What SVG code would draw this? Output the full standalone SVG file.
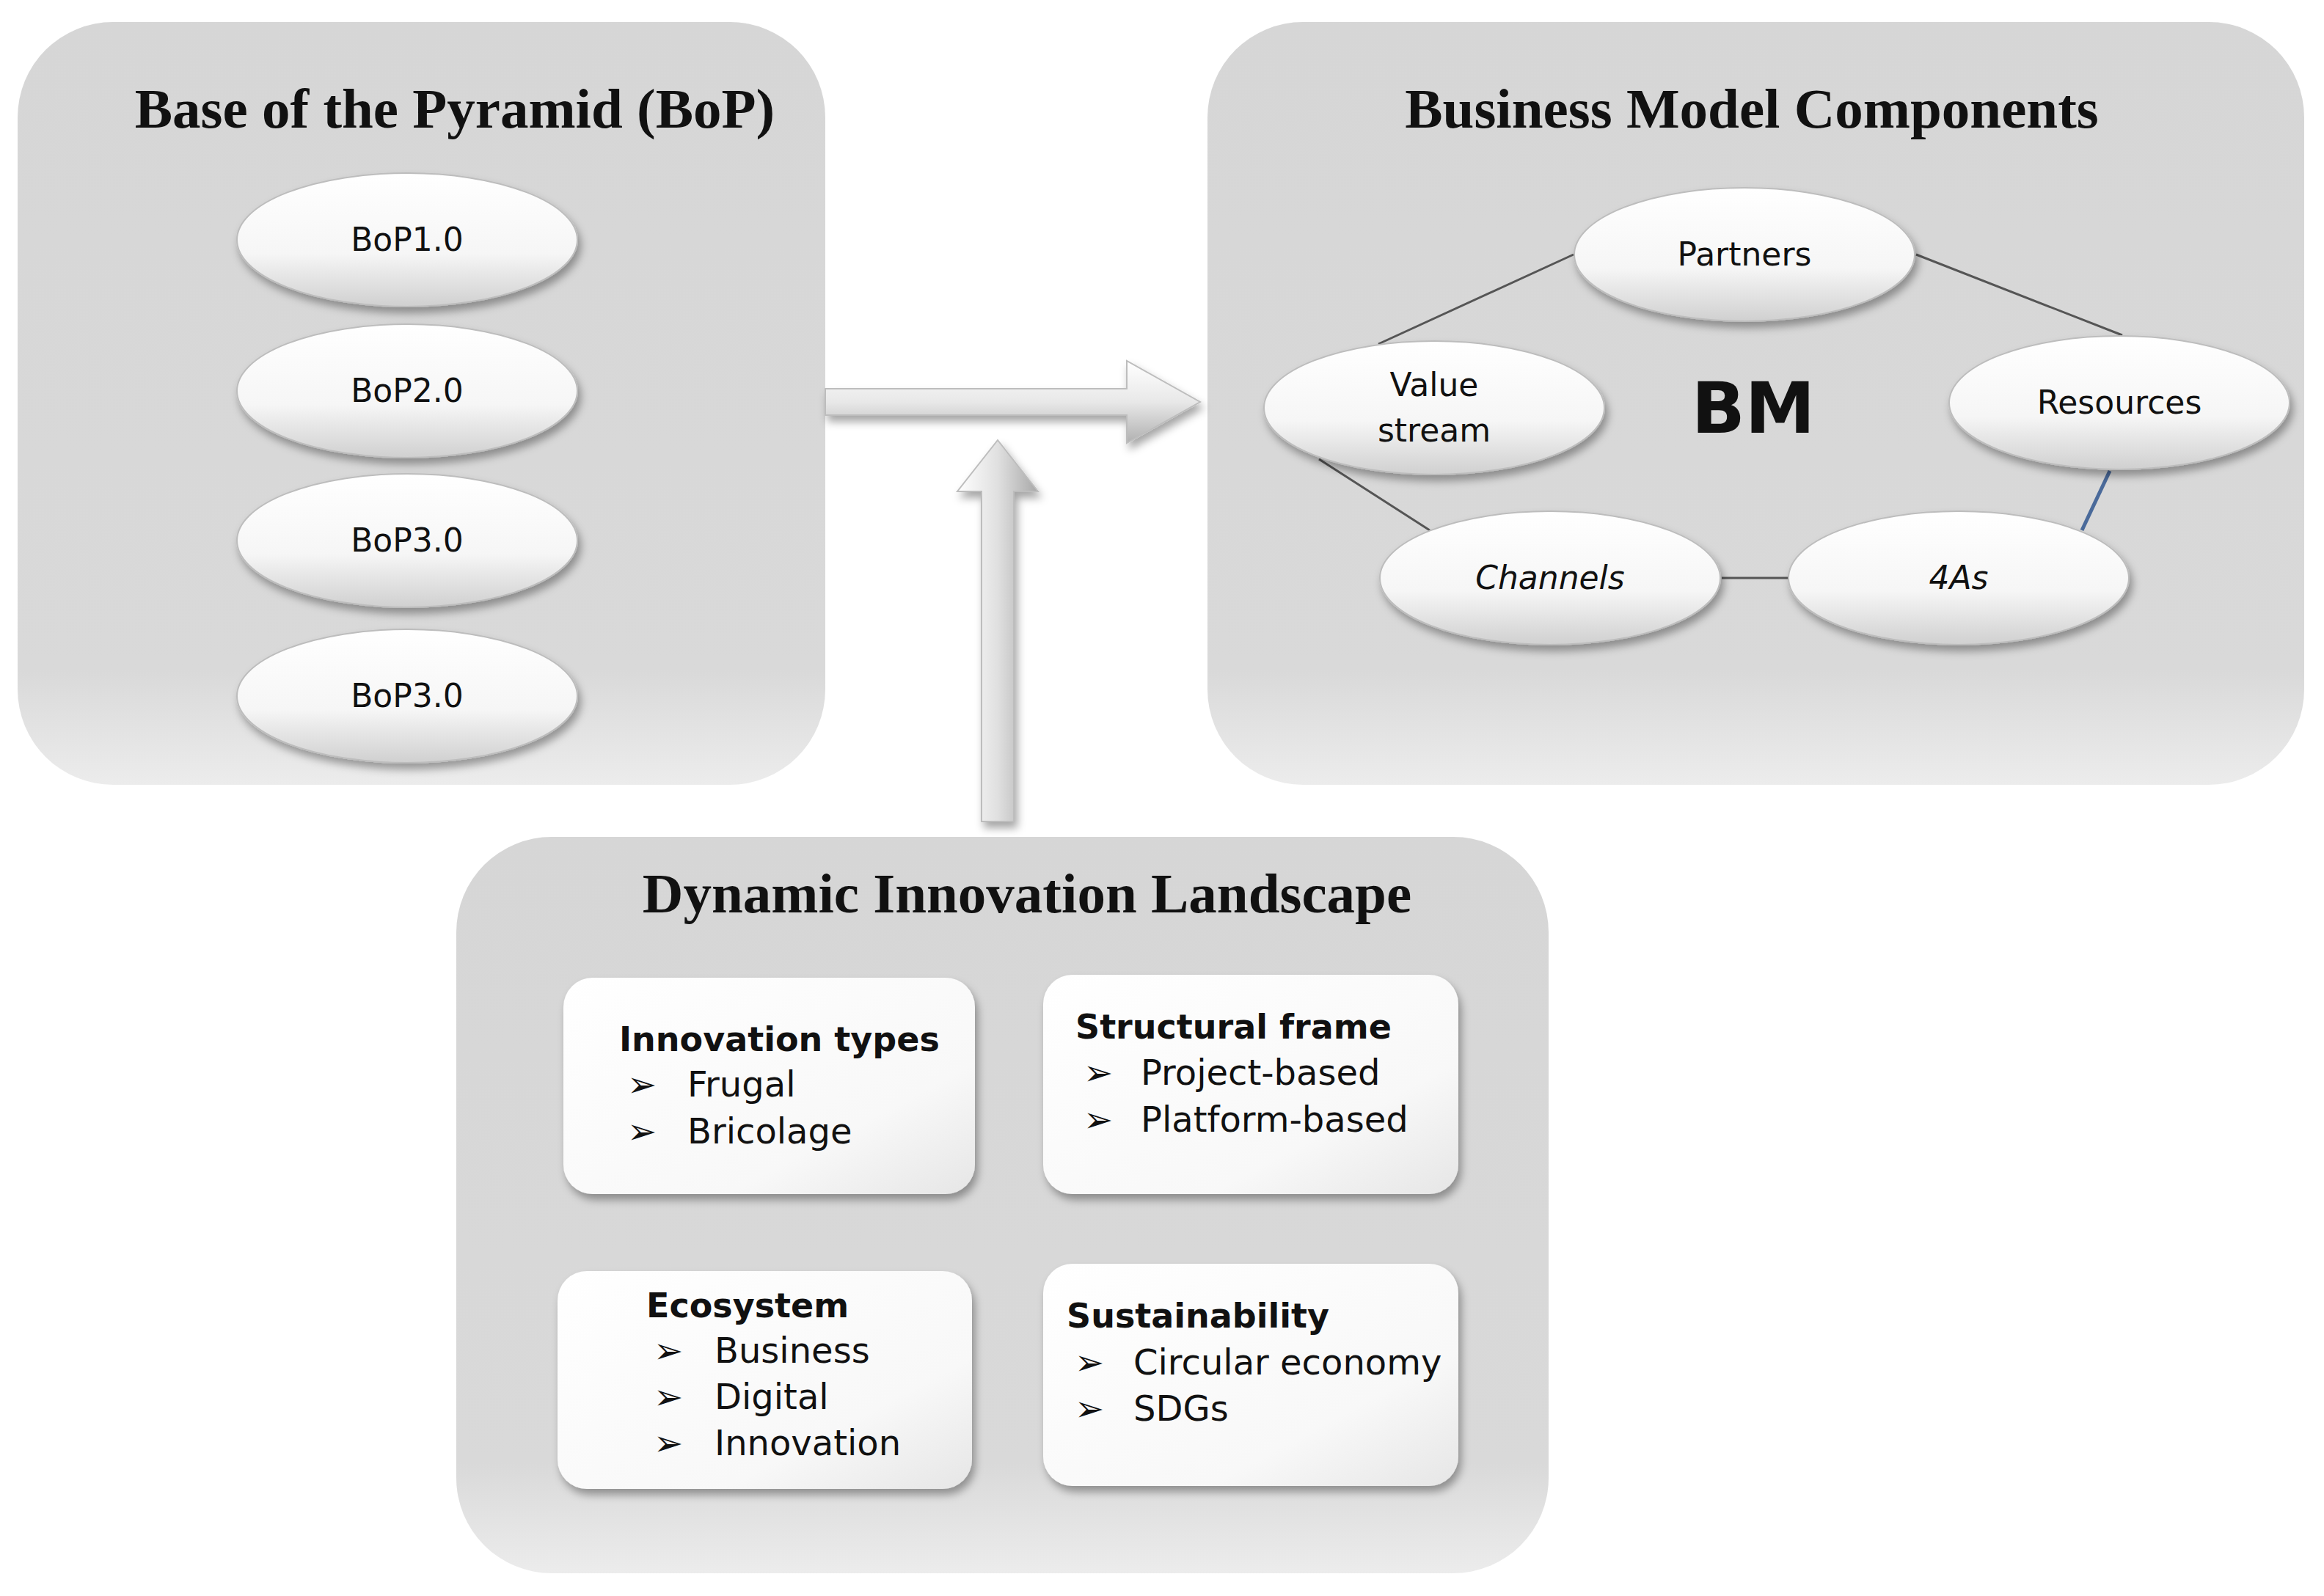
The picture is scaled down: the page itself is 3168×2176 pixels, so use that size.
<svg xmlns="http://www.w3.org/2000/svg" width="3168" height="2176" viewBox="0 0 3168 2176">
<defs>
<linearGradient id="pg" x1="0" y1="0" x2="0" y2="1"><stop offset="0" stop-color="#d6d6d6"/><stop offset="0.85" stop-color="#d9d9d9"/><stop offset="1" stop-color="#ececec"/></linearGradient>
<linearGradient id="eg" x1="0" y1="0" x2="0" y2="1"><stop offset="0" stop-color="#ffffff"/><stop offset="0.6" stop-color="#f6f6f6"/><stop offset="1" stop-color="#d0d0d0"/></linearGradient>
<linearGradient id="bg" x1="0" y1="0" x2="1" y2="1"><stop offset="0" stop-color="#ffffff"/><stop offset="0.7" stop-color="#f8f8f8"/><stop offset="1" stop-color="#e6e6e6"/></linearGradient>
<linearGradient id="ah" x1="0" y1="0" x2="0" y2="1"><stop offset="0" stop-color="#ffffff"/><stop offset="0.5" stop-color="#e8e8e8"/><stop offset="1" stop-color="#b0b0b0"/></linearGradient>
<linearGradient id="av" x1="0" y1="0" x2="1" y2="0"><stop offset="0" stop-color="#ffffff"/><stop offset="0.5" stop-color="#e0e0e0"/><stop offset="1" stop-color="#a8a8a8"/></linearGradient>
<filter id="sh" x="-10%" y="-10%" width="130%" height="130%"><feDropShadow dx="4" dy="8" stdDeviation="6" flood-color="#000" flood-opacity="0.35"/></filter>
</defs>
<style>
.panel{fill:url(#pg);}
.ell{fill:url(#eg);stroke:#bdbdbd;stroke-width:2;filter:url(#sh);}
.box{fill:url(#bg);filter:url(#sh);}
.title{font-family:"Liberation Serif",serif;font-weight:bold;font-size:77px;fill:#111;text-anchor:middle;}
.lbl{font-family:"DejaVu Sans",sans-serif;font-size:44px;fill:#111;text-anchor:middle;}
.ht{font-family:"DejaVu Sans",sans-serif;font-weight:bold;font-size:46px;fill:#111;}
.it{font-family:"DejaVu Sans",sans-serif;font-size:48px;fill:#111;}
.line{stroke:#555;stroke-width:3;fill:none;}
</style>
<rect x="0" y="0" width="3168" height="2176" fill="#fff"/>
<g id="bop">
<rect class="panel" x="24" y="30" width="1101" height="1040" rx="130"/>
<text class="title" x="620" y="174">Base of the Pyramid  (BoP)</text>
<g id="bop1"><ellipse class="ell" cx="555" cy="327" rx="232" ry="91"/><text class="lbl" x="555" y="342">BoP1.0</text></g>
<g id="bop2"><ellipse class="ell" cx="555" cy="533" rx="232" ry="91"/><text class="lbl" x="555" y="548">BoP2.0</text></g>
<g id="bop3"><ellipse class="ell" cx="555" cy="737" rx="232" ry="91"/><text class="lbl" x="555" y="752">BoP3.0</text></g>
<g id="bop4"><ellipse class="ell" cx="555" cy="949" rx="232" ry="91"/><text class="lbl" x="555" y="964">BoP3.0</text></g>
</g>
<g id="bm">
<rect class="panel" x="1646" y="30" width="1495" height="1040" rx="130"/>
<text class="title" x="2388" y="174">Business Model Components</text>
<g id="bm-lines">
<line class="line" x1="2145" y1="347" x2="1879" y2="469"/>
<line class="line" x1="2612" y1="347" x2="2893" y2="457"/>
<line class="line" x1="1798" y1="626" x2="1949" y2="723"/>
<line class="line" x1="2347" y1="788" x2="2438" y2="788"/>
<line x1="2876" y1="642" x2="2838" y2="723" stroke="#4a6a9a" stroke-width="5"/>
</g>
<text x="2390" y="590" font-family="DejaVu Sans,sans-serif" font-weight="bold" font-size="96" text-anchor="middle" fill="#111">BM</text>
<g id="partners"><ellipse class="ell" cx="2378" cy="347" rx="232" ry="91"/><text class="lbl" x="2378" y="362">Partners</text></g>
<g id="value"><ellipse class="ell" cx="1955" cy="556" rx="232" ry="91"/><text class="lbl" x="1955" y="540">Value</text><text class="lbl" x="1955" y="602">stream</text></g>
<g id="resources"><ellipse class="ell" cx="2889" cy="549" rx="232" ry="91"/><text class="lbl" x="2889" y="564">Resources</text></g>
<g id="channels"><ellipse class="ell" cx="2113" cy="788" rx="232" ry="91"/><text class="lbl" x="2113" y="803" font-style="italic">Channels</text></g>
<g id="fouras"><ellipse class="ell" cx="2670" cy="788" rx="232" ry="91"/><text class="lbl" x="2670" y="803" font-style="italic">4As</text></g>
</g>
<g id="connectors">
<path d="M1125 530 H1536 V492 L1636 548 L1536 604 V566 H1125 Z" fill="url(#ah)" stroke="#bdbdbd" stroke-width="2" filter="url(#sh)"/>
<path d="M1338 1120 V670 H1305 L1360 600 L1415 670 H1382 V1120 Z" fill="url(#av)" stroke="#bdbdbd" stroke-width="2" filter="url(#sh)"/>
</g>
<g id="dil">
<rect class="panel" x="622" y="1141" width="1489" height="1004" rx="130"/>
<text class="title" x="1400" y="1244">Dynamic  Innovation  Landscape</text>
<g id="innov"><rect class="box" x="768" y="1333" width="561" height="295" rx="40"/>
<text class="ht" x="844" y="1433">Innovation  types</text>
<text class="it" x="855" y="1495">➢</text><text class="it" x="937" y="1495">Frugal</text>
<text class="it" x="855" y="1559">➢</text><text class="it" x="937" y="1559">Bricolage</text></g>
<g id="struct"><rect class="box" x="1422" y="1329" width="566" height="299" rx="40"/>
<text class="ht" x="1466" y="1416">Structural  frame</text>
<text class="it" x="1477" y="1479">➢</text><text class="it" x="1555" y="1479">Project-based</text>
<text class="it" x="1477" y="1543">➢</text><text class="it" x="1555" y="1543">Platform-based</text></g>
<g id="eco"><rect class="box" x="760" y="1733" width="565" height="297" rx="40"/>
<text class="ht" x="881" y="1796">Ecosystem</text>
<text class="it" x="891" y="1858">➢</text><text class="it" x="974" y="1858">Business</text>
<text class="it" x="891" y="1921">➢</text><text class="it" x="974" y="1921">Digital</text>
<text class="it" x="891" y="1984">➢</text><text class="it" x="974" y="1984">Innovation</text></g>
<g id="sust"><rect class="box" x="1422" y="1723" width="566" height="303" rx="40"/>
<text class="ht" x="1454" y="1810">Sustainability</text>
<text class="it" x="1465" y="1874">➢</text><text class="it" x="1545" y="1874">Circular economy</text>
<text class="it" x="1465" y="1937">➢</text><text class="it" x="1545" y="1937">SDGs</text></g>
</g>
</svg>
